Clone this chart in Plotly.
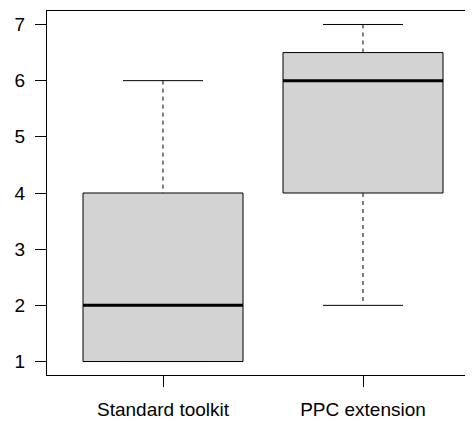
import plotly.graph_objects as go

categories = ["Standard toolkit", "PPC extension"]
lower_whisker = [1, 2]
q1 = [1, 4]
median = [2, 6]
q3 = [4, 6.5]
upper_whisker = [6, 7]
y_ticks = [1, 2, 3, 4, 5, 6, 7]

BOX_HALF = 0.4
CAP_HALF = 0.2

fig = go.Figure()
shapes = []
for i, name in enumerate(categories):
    x = i + 1
    # whiskers (dashed)
    fig.add_trace(go.Scatter(x=[x, x], y=[upper_whisker[i], q3[i]], mode="lines",
                             line=dict(color="black", width=1, dash="4px,4px"),
                             showlegend=False, hoverinfo="skip"))
    fig.add_trace(go.Scatter(x=[x, x], y=[q1[i], lower_whisker[i]], mode="lines",
                             line=dict(color="black", width=1, dash="4px,4px"),
                             showlegend=False, hoverinfo="skip"))
    # caps
    for v in (upper_whisker[i], lower_whisker[i]):
        fig.add_trace(go.Scatter(x=[x - CAP_HALF, x + CAP_HALF], y=[v, v], mode="lines",
                                 line=dict(color="black", width=1),
                                 showlegend=False, hoverinfo="skip"))
    # box
    shapes.append(dict(type="rect", xref="x", yref="y",
                       x0=x - BOX_HALF, x1=x + BOX_HALF, y0=q1[i], y1=q3[i],
                       fillcolor="#d3d3d3", line=dict(color="black", width=1),
                       layer="above"))
    # median
    shapes.append(dict(type="line", xref="x", yref="y",
                       x0=x - BOX_HALF, x1=x + BOX_HALF, y0=median[i], y1=median[i],
                       line=dict(color="black", width=3), layer="above"))

fig.update_layout(
    width=465, height=414,
    margin=dict(l=39, r=0, t=3, b=47),
    paper_bgcolor="white", plot_bgcolor="white",
    shapes=shapes,
    font=dict(family="Liberation Sans, Arial, sans-serif", size=19, color="black"),
    showlegend=False,
)
fig.update_xaxes(range=[0.42, 2.55], tickvals=[1, 2], ticktext=categories,
                 showgrid=False, zeroline=False, showline=True, mirror=True,
                 linecolor="black", linewidth=1, ticks="outside", ticklen=11,
                 tickcolor="black", tickwidth=1, ticklabelstandoff=6)
fig.update_yaxes(range=[0.76, 7.24], tickvals=y_ticks,
                 showgrid=False, zeroline=False, showline=True, mirror=False,
                 linecolor="black", linewidth=1, ticks="outside", ticklen=11,
                 tickcolor="black", tickwidth=1, ticklabelstandoff=6)

fig.write_html("out.html")
